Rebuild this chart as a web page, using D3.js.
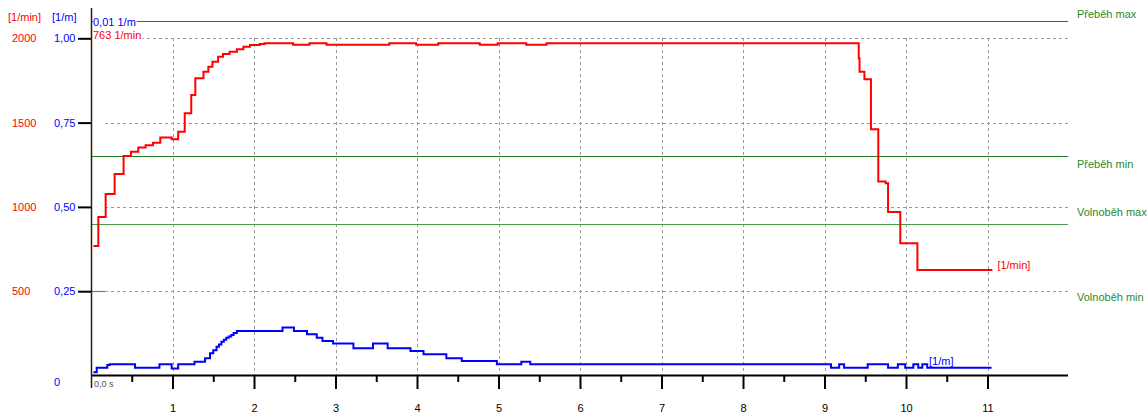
<!DOCTYPE html>
<html><head><meta charset="utf-8">
<script src="https://cdn.jsdelivr.net/npm/d3@7"></script>
<style>body{margin:0;background:#fff}svg{display:block;font-family:"Liberation Sans",Arial,sans-serif}</style>
</head><body><svg id="c" width="1148" height="415"></svg>
<script>
// ---- data ----
const rpmTime   = [0.03,0.09,0.18,0.29,0.40,0.49,0.58,0.67,0.76,0.85,0.99,1.07,1.15,1.23,1.28,1.38,1.44,1.49,1.56,1.62,1.70,1.79,1.87,1.95,2.07,2.13,2.48,2.68,2.89,3.66,3.99,4.26,4.77,4.99,5.34,5.59,9.42,9.43,9.49,9.57,9.66,9.75,9.78,9.93,10.14,11.06];
const rpmValues = [768,940,1076,1195,1302,1327,1353,1365,1381,1411,1401,1446,1555,1664,1763,1802,1832,1861,1891,1907,1920,1935,1950,1960,1966,1970,1962,1970,1962,1970,1962,1970,1962,1970,1962,1970,1881,1802,1757,1460,1150,1140,970,784,626,626];
const idxTime   = [0.03,0.07,0.20,0.23,0.54,0.84,0.99,1.07,1.27,1.40,1.46,1.50,1.54,1.57,1.60,1.63,1.66,1.69,1.72,1.75,1.79,2.35,2.49,2.65,2.77,2.84,2.97,3.22,3.46,3.64,3.92,4.08,4.36,4.55,4.98,5.28,5.39,9.08,9.18,9.24,9.53,9.78,9.90,9.99,10.09,10.15,10.20,10.26,11.05];
const idxValues = [0.0095,0.023,0.031,0.033,0.023,0.033,0.021,0.033,0.041,0.051,0.066,0.075,0.085,0.092,0.100,0.106,0.112,0.116,0.120,0.126,0.132,0.142,0.132,0.122,0.112,0.102,0.095,0.081,0.095,0.081,0.073,0.063,0.051,0.043,0.033,0.041,0.033,0.023,0.033,0.023,0.033,0.023,0.033,0.023,0.033,0.023,0.033,0.023,0.023];
const xMajorTicks = [1,2,3,4,5,6,7,8,9,10,11];
const xMinorTicks = [0.5,1.5,2.5,3.5,4.5,5.5,6.5,7.5,8.5,9.5,10.5];
const rpmTicks = [500,1000,1500,2000];
const rpmTickLabels = ["500","1000","1500","2000"];
const idxTicks = [0,0.25,0.5,0.75,1];
const idxTickLabels = ["0","0,25","0,50","0,75","1,00"];
const limitNames = ["Přeběh max","Přeběh min","Volnoběh max","Volnoběh min"];
const limitValues = [2100,1300,900,500];

// ---- drawing ----
const svg = d3.select("#c");
const x = d3.scaleLinear().domain([0,11]).range([91,987.5]);
const y = d3.scaleLinear().domain([0,2000]).range([375.5,38.3]);
const y2 = d3.scaleLinear().domain([0,1]).range([375.5,38.3]);
const RED="#ff0000", BLUE="#0000ff", GREEN="#1f7f1f", GRID="#9a9a9a";
const xEnd = 1068;

// horizontal grid
svg.append("g").selectAll("line").data(rpmTicks).join("line")
  .attr("x1",105).attr("x2",xEnd).attr("y1",d=>Math.round(y(d))+0.5).attr("y2",d=>Math.round(y(d))+0.5)
  .attr("stroke",GRID).attr("stroke-dasharray","3,3");
// vertical grid
svg.append("g").selectAll("line").data(xMajorTicks).join("line")
  .attr("x1",d=>Math.round(x(d))+0.5).attr("x2",d=>Math.round(x(d))+0.5).attr("y1",38).attr("y2",375)
  .attr("stroke",GRID).attr("stroke-dasharray","3,3");

// limit lines
const limEnd = [xEnd,xEnd,xEnd,105];
const limCol = ["#1a7a1a","#1a7a1a","#4a9a4a","#4a9a4a"];
svg.append("g").selectAll("line").data(limitValues).join("line")
  .attr("x1",91).attr("x2",(d,i)=>limEnd[i]).attr("y1",d=>Math.round(y(d))+0.5).attr("y2",d=>Math.round(y(d))+0.5)
  .attr("stroke",(d,i)=>limCol[i]).attr("stroke-width",1.2);
const limDy = [-3,12,-8,10];
svg.append("g").selectAll("text").data(limitNames).join("text")
  .attr("x",1077).attr("y",(d,i)=>y(limitValues[i])+limDy[i])
  .attr("fill","#2b8a2b").attr("font-size",11).text(d=>d);

// axes
const gx = svg.append("g").attr("transform","translate(0,375)");
gx.call(d3.axisBottom(x).tickValues(xMinorTicks).tickSize(7).tickFormat(""))
  .call(g=>g.select(".domain").remove())
  .call(g=>g.selectAll("line").attr("stroke","#000").attr("stroke-width",2));
const gx2 = svg.append("g").attr("transform","translate(0,375)");
gx2.call(d3.axisBottom(x).tickValues(xMajorTicks).tickSize(14).tickPadding(15).tickFormat(d3.format("d")))
  .call(g=>g.select(".domain").remove())
  .call(g=>g.selectAll("line").attr("stroke","#000").attr("stroke-width",2))
  .call(g=>g.selectAll("text").attr("font-size",11).attr("fill","#000").attr("font-family","Liberation Sans, Arial, sans-serif"));
svg.append("line").attr("x1",91).attr("x2",xEnd).attr("y1",375.5).attr("y2",375.5).attr("stroke","#000").attr("stroke-width",2);

const gy = svg.append("g").attr("transform","translate(91,0)");
gy.call(d3.axisLeft(y2).tickValues(idxTicks.slice(1)).tickSize(13).tickFormat(""))
  .call(g=>g.select(".domain").remove())
  .call(g=>g.selectAll("line").attr("stroke","#000").attr("stroke-width",2));
svg.append("line").attr("x1",91.5).attr("x2",91.5).attr("y1",8).attr("y2",388).attr("stroke","#3a1515").attr("stroke-width",1.5);

// y labels
svg.append("g").selectAll("text").data(rpmTicks).join("text")
  .attr("x",12).attr("y",d=>y(d)+4).attr("fill",RED).attr("font-size",11).text((d,i)=>rpmTickLabels[i]);
svg.append("g").selectAll("text").data(idxTicks).join("text")
  .attr("x",54).attr("y",d=>y2(d)+4+(d===0?6:0)).attr("fill",BLUE).attr("font-size",11).text((d,i)=>idxTickLabels[i]);
svg.append("text").attr("x",8).attr("y",21).attr("fill",RED).attr("font-size",11).text("[1/min]");
svg.append("text").attr("x",52).attr("y",21).attr("fill",BLUE).attr("font-size",11).text("[1/m]");

// series
const rpmData = rpmTime.map((t,i)=>[t,rpmValues[i]]);
const idxData = idxTime.map((t,i)=>[t,idxValues[i]]);
svg.append("path").datum(rpmData)
  .attr("d",d3.line().x(d=>x(d[0])).y(d=>y(d[1])).curve(d3.curveStepAfter))
  .attr("fill","none").attr("stroke",RED).attr("stroke-width",2);
svg.append("path").datum(idxData)
  .attr("d",d3.line().x(d=>x(d[0])).y(d=>y2(d[1])).curve(d3.curveStepAfter))
  .attr("fill","none").attr("stroke",BLUE).attr("stroke-width",2);

// inline labels
function label(tx,ty,txt,col,size,bg){
  const t = svg.append("text").attr("x",tx).attr("y",ty).attr("fill",col).attr("font-size",size).text(txt);
  if(bg){const b=t.node().getBBox();
    svg.insert("rect",()=>t.node()).attr("x",b.x).attr("y",b.y+1).attr("width",b.width+1).attr("height",b.height-1).attr("fill","#fff");}
  return t;
}
label(93,26,"0,01 1/m",BLUE,11,true);
label(93,39,"763 1/min",RED,11,true);
const lastRpm = rpmData[rpmData.length-1];
label(x(lastRpm[0])+5,y(lastRpm[1])-1,"[1/min]",RED,11,false);
label(929,365,"[1/m]",BLUE,11,false);
label(94,387,"0,0 s","#555",9,false);
</script></body></html>
